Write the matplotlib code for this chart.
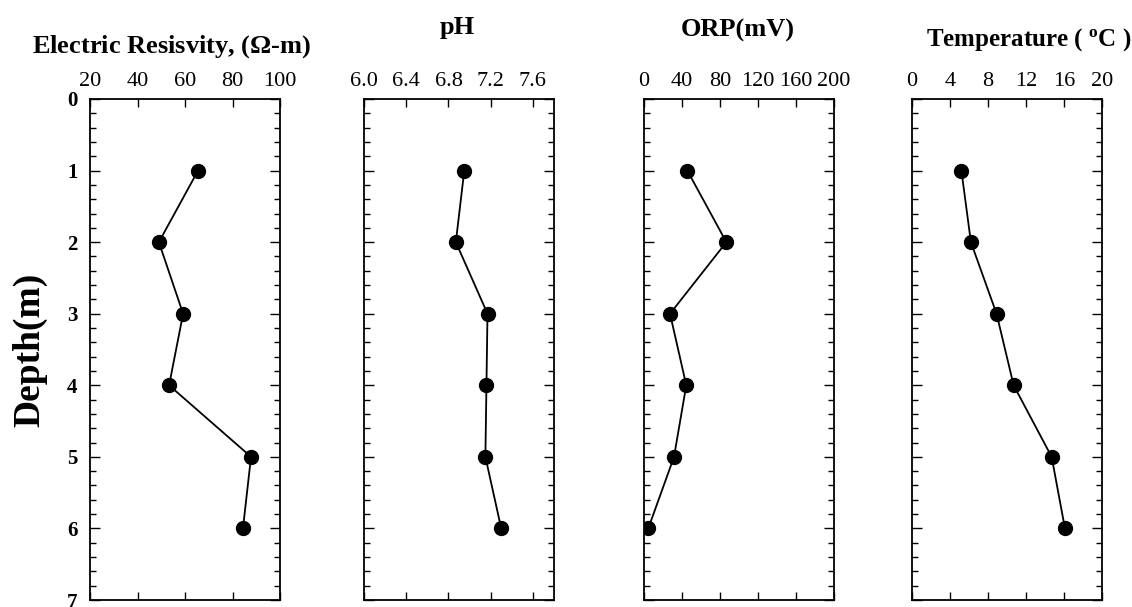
import matplotlib as mpl
mpl.use('Agg')
import matplotlib.pyplot as plt
from matplotlib.ticker import MultipleLocator

# depth of each sample (m)
depth = [1, 2, 3, 4, 5, 6]

# values
resistivity = [65.5, 49.0, 59.2, 53.3, 87.8, 84.4]
ph = [6.95, 6.87, 7.17, 7.16, 7.15, 7.30]
orp = [45.6, 86.7, 27.4, 44.5, 31.6, 4.5]
temperature = [5.2, 6.2, 8.9, 10.7, 14.7, 16.1]

titles = ['Electric Resisvity, ($\\Omega$-m)', 'pH', 'ORP(mV)', 'Temperature ( $^{\\mathregular{o}}$C )']
xlims = [(20, 100), (6.0, 7.8), (0, 200), (0, 20)]
xticks = [[20, 40, 60, 80, 100],
          [6.0, 6.4, 6.8, 7.2, 7.6],
          [0, 40, 80, 120, 160, 200],
          [0, 4, 8, 12, 16, 20]]
xticklabels = [['20', '40', '60', '80', '100'],
               ['6.0', '6.4', '6.8', '7.2', '7.6'],
               ['0', '40', '80', '120', '160', '200'],
               ['0', '4', '8', '12', '16', '20']]
series = [resistivity, ph, orp, temperature]

plt.rcParams['font.family'] = ['Liberation Serif', 'DejaVu Serif']
plt.rcParams['mathtext.fontset'] = 'custom'
plt.rcParams['mathtext.rm'] = 'Liberation Serif:bold'
plt.rcParams['mathtext.it'] = 'Liberation Serif:bold'
plt.rcParams['mathtext.bf'] = 'Liberation Serif:bold'

W, H = 1132, 607
fig = plt.figure(figsize=(W / 100, H / 100), dpi=100)

lefts = [90, 364, 644, 912]   # pixel positions of the panels
top_px, bot_px, width_px = 99, 600, 190

# title positions (pixel x centre, pixel baseline, size)
title_pos = [(172, 53, 19), (457, 34, 19), (738, 37, 19), (1029, 46, 18)]

for i in range(4):
    ax = fig.add_axes([lefts[i] / W, 1 - bot_px / H, width_px / W, (bot_px - top_px) / H])
    ax.plot(series[i], depth, color='black', lw=1.3, marker='o', ms=10,
            mfc='black', mec='black', zorder=3)
    ax.set_xlim(*xlims[i])
    ax.set_ylim(7, 0)
    ax.set_xticks(xticks[i])
    ax.set_xticklabels(xticklabels[i])
    ax.xaxis.tick_top()
    ax.tick_params(axis='x', which='major', direction='in', top=True, bottom=True,
                   length=6, width=1, labelsize=16, pad=6)
    ax.yaxis.set_major_locator(MultipleLocator(1))
    ax.yaxis.set_minor_locator(MultipleLocator(0.2))
    ax.tick_params(axis='y', which='major', direction='in', left=True, right=True,
                   length=7, width=1, labelsize=15, pad=9)
    ax.tick_params(axis='y', which='minor', direction='in', left=True, right=True,
                   length=4, width=1)
    if i == 0:
        for lab in ax.get_yticklabels():
            lab.set_fontweight('bold')
        ax.set_ylabel('Depth(m)', fontsize=27, fontweight='bold', labelpad=14)
    else:
        ax.set_yticklabels([])
    for s in ax.spines.values():
        s.set_linewidth(1.3)
    tx, ty, fs = title_pos[i]
    fig.text(tx / W, 1 - ty / H, titles[i],
             ha='center', va='baseline', fontsize=fs, fontweight='bold')

fig.savefig('out.png', dpi=100)
